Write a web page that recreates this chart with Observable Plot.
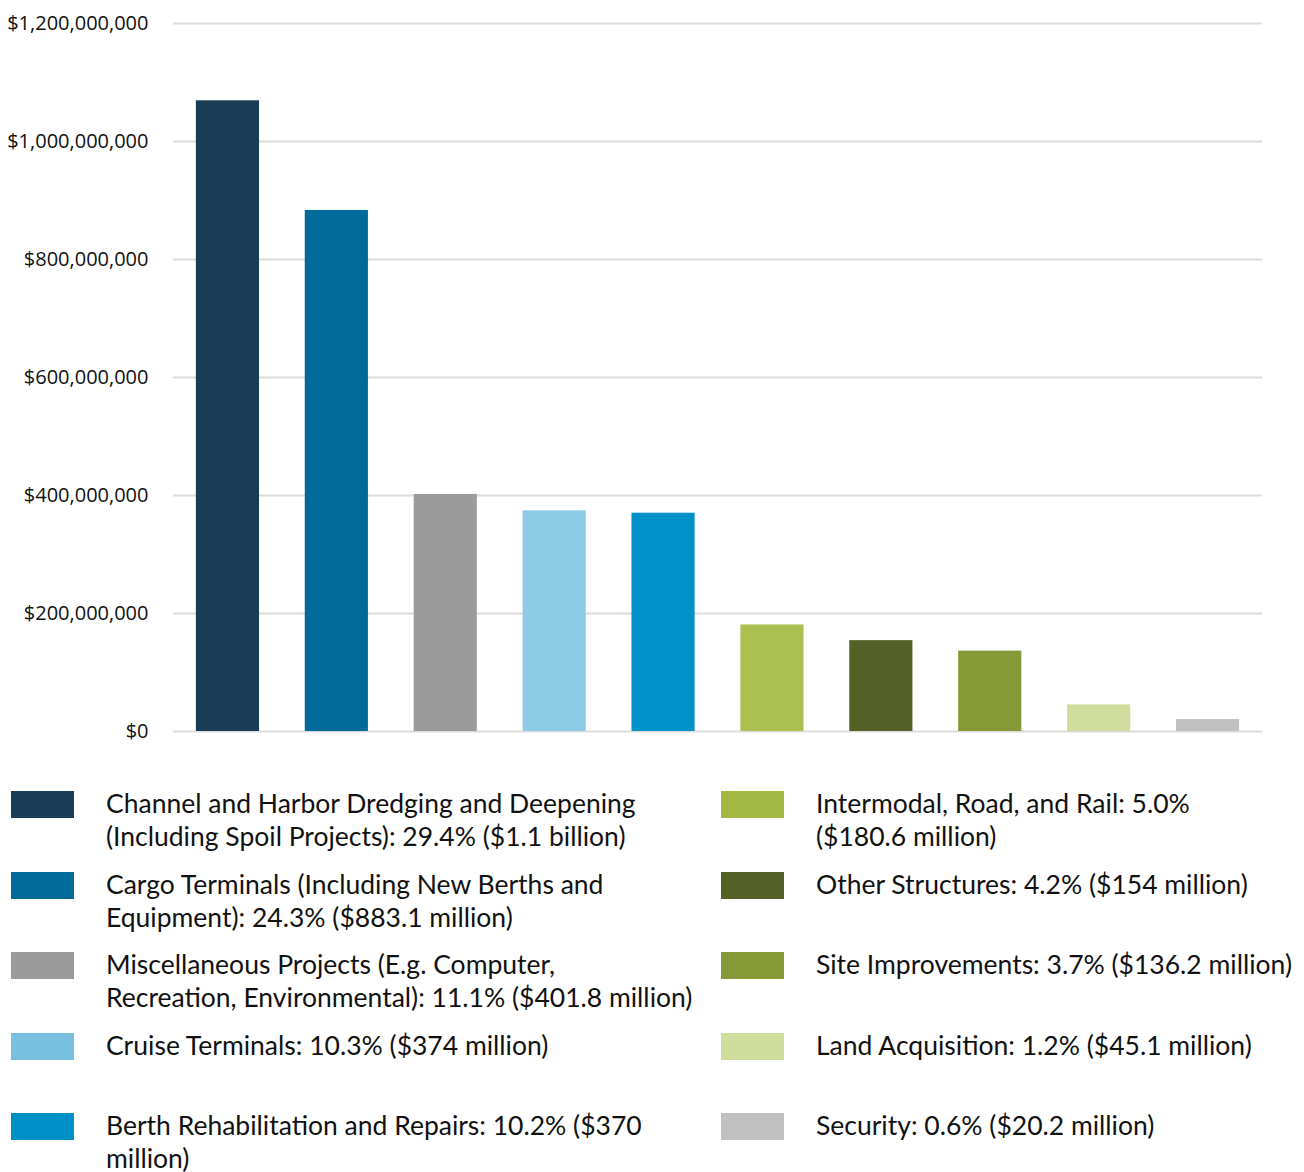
<!DOCTYPE html>
<html>
<head>
<meta charset="utf-8">
<script src="https://cdn.jsdelivr.net/npm/d3@7"></script>
<script src="https://cdn.jsdelivr.net/npm/@observablehq/plot@0.6"></script>
<style>
  body { margin: 0; background: #fff; }
  #chart { position: absolute; left: 0; top: 0; }
  .legend { position: absolute; left: 0; top: 780px; width: 1304px; display: grid; grid-template-columns: 710px 594px; grid-auto-rows: 80.5px; font-family: Lato, sans-serif; font-size: 26.5px; line-height: 33px; color: #111; }
  .item { position: relative; }
  .sw { position: absolute; left: 11px; top: 11px; width: 63px; height: 27px; }
  .tx { position: absolute; left: 106px; top: 7px; white-space: nowrap; }
</style>
</head>
<body>
<div id="chart"></div>
<div class="legend" id="legend"></div>
<script>
const categories = [
  "Channel and Harbor Dredging and Deepening",
  "Cargo Terminals",
  "Miscellaneous Projects",
  "Cruise Terminals",
  "Berth Rehabilitation and Repairs",
  "Intermodal, Road, and Rail",
  "Other Structures",
  "Site Improvements",
  "Land Acquisition",
  "Security"
];
const values = [1069000000, 883100000, 401800000, 374000000, 370000000, 180600000, 154000000, 136200000, 45100000, 20200000];
const barColors = ["#1a3d55", "#006a9a", "#9b9b9b", "#8dcbe5", "#0391c9", "#abc051", "#546126", "#869937", "#d0dd9c", "#c0c0c0"];
const legendColors = ["#1a3d55", "#006a9a", "#9b9b9b", "#78c0e0", "#0090c8", "#a2b843", "#546126", "#869937", "#cfdd9c", "#c0c0c0"];
const legendLabels = [
  ["Channel and Harbor Dredging and Deepening", "(Including Spoil Projects): 29.4% ($1.1 billion)"],
  ["Cargo Terminals (Including New Berths and", "Equipment): 24.3% ($883.1 million)"],
  ["Miscellaneous Projects (E.g. Computer,", "Recreation, Environmental): 11.1% ($401.8 million)"],
  ["Cruise Terminals: 10.3% ($374 million)"],
  ["Berth Rehabilitation and Repairs: 10.2% ($370", "million)"],
  ["Intermodal, Road, and Rail: 5.0%", "($180.6 million)"],
  ["Other Structures: 4.2% ($154 million)"],
  ["Site Improvements: 3.7% ($136.2 million)"],
  ["Land Acquisition: 1.2% ($45.1 million)"],
  ["Security: 0.6% ($20.2 million)"]
];
const yTicks = [0, 200000000, 400000000, 600000000, 800000000, 1000000000, 1200000000];

const data = categories.map((c, i) => ({category: c, value: values[i]}));

const plot = Plot.plot({
  width: 1304,
  height: 745,
  marginTop: 23,
  marginBottom: 14,
  marginLeft: 173,
  marginRight: 42,
  style: {fontFamily: "'Liberation Sans Narrow', 'Open Sans', sans-serif", fontSize: "20px", color: "#111", background: "#fff"},
  x: {domain: categories, paddingInner: 0.42, paddingOuter: 0.21, round: false, axis: null},
  y: {domain: [0, 1200000000], ticks: yTicks, tickFormat: d3.format("$,"), tickSize: 0, tickPadding: 25, label: null},
  color: {domain: categories, range: barColors},
  marks: [
    Plot.ruleY(yTicks, {stroke: "#dcdcdc", strokeWidth: 2}),
    Plot.barY(data, {x: "category", y: "value", fill: "category"})
  ]
});
document.getElementById("chart").appendChild(plot);

const leg = document.getElementById("legend");
const order = [0, 5, 1, 6, 2, 7, 3, 8, 4, 9];
for (const i of order) {
  const item = document.createElement("div");
  item.className = "item";
  const sw = document.createElement("div");
  sw.className = "sw";
  sw.style.background = legendColors[i];
  const tx = document.createElement("div");
  tx.className = "tx";
  tx.innerHTML = legendLabels[i].join("<br>");
  item.appendChild(sw);
  item.appendChild(tx);
  leg.appendChild(item);
}
</script>
</body>
</html>
